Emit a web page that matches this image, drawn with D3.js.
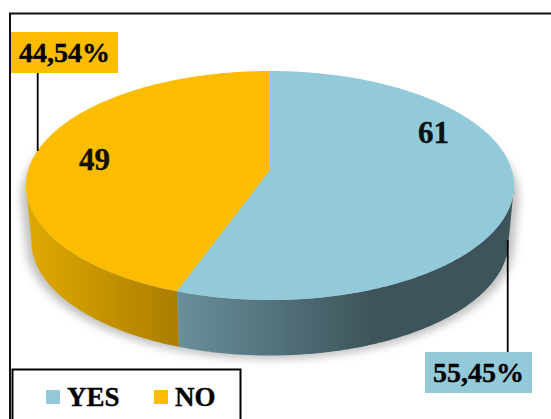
<!DOCTYPE html>
<html>
<head>
<meta charset="utf-8">
<script src="https://cdnjs.cloudflare.com/ajax/libs/d3/7.8.5/d3.min.js"></script>
<style>
  html, body { margin: 0; padding: 0; background: #fff; overflow: hidden; }
  svg { display: block; }
  text { font-family: "Liberation Serif", "Times New Roman", serif; font-weight: bold; fill: #000; stroke: #000; stroke-width: 0.35px; }
</style>
</head>
<body>
<svg id="chart" width="551" height="419"></svg>
<script>
// Survey answers
const categories = ["YES", "NO"];
const counts = [61, 49];
const percentLabels = ["55,45%", "44,54%"];
const colors = ["#92CAD9", "#FCBC00"];

const svg = d3.select("#chart");
const defs = svg.append("defs");

// Perspective tilt of the disc: maps a point of the unit circle to the page
const cx = 270, cy = 170, tilt = -0.1354, yGain = 89.4, xGain = 241.75;
const depth = 55.5, lowerScale = 0.978;

function project(angle, scale = 1, drop = 0) {
  const u = Math.sin(angle), v = -Math.cos(angle), w = 1 + tilt * v;
  return [cx + scale * xGain * u / w, drop + (cy + yGain * v) / w];
}

function edge(a0, a1, scale, drop) {
  const n = Math.max(2, Math.ceil(Math.abs(a1 - a0) / 0.01));
  return d3.range(n + 1).map(i => project(a0 + (a1 - a0) * i / n, scale, drop));
}

const line = d3.line().curve(d3.curveLinear);
const slices = d3.pie().sort(null)(counts);

// The wall is visible only between the two widest points of the disc
const sideAngle = Math.acos(tilt);
const visibleStart = d => Math.max(d.startAngle, sideAngle);
const visibleEnd = d => Math.min(d.endAngle, 2 * Math.PI - sideAngle);

// Side wall shading
function wallGradient(id, x1, x2, stops) {
  const g = defs.append("linearGradient")
    .attr("id", id).attr("gradientUnits", "userSpaceOnUse")
    .attr("x1", x1).attr("x2", x2).attr("y1", 0).attr("y2", 0);
  stops.forEach(([o, c]) => g.append("stop").attr("offset", o).attr("stop-color", c));
}
wallGradient("wall-0", 177, 372, [[0, "#6A909B"], [1, "#3D545B"]]);
wallGradient("wall-1", 28, 178, [[0, "#DFA900"], [1, "#AC7E00"]]);

defs.append("filter").attr("id", "soft")
  .attr("x", "-10%").attr("y", "-10%").attr("width", "120%").attr("height", "120%")
  .append("feGaussianBlur").attr("stdDeviation", 4.5);

// Outer frame, open on the right and at the bottom
svg.append("path")
  .attr("d", line([[10, 419], [10, 13.5], [551, 13.5]]))
  .attr("fill", "none").attr("stroke", "#111").attr("stroke-width", 2);

// Drop shadow under the disc
const shadowHull = d3.polygonHull([
  ...edge(0, 2 * Math.PI, 1.02, 12),
  ...edge(0, 2 * Math.PI, 1.0, 59)
]);
svg.append("path")
  .attr("d", line(shadowHull) + "Z")
  .attr("fill", "#8c8c8c").attr("fill-opacity", 0.55)
  .attr("filter", "url(#soft)");

// Side walls
svg.selectAll("path.wall").data(slices).join("path")
  .attr("class", "wall")
  .attr("d", d => line([
    ...edge(visibleStart(d), visibleEnd(d), 1, 0),
    ...edge(visibleEnd(d), visibleStart(d), lowerScale, depth)
  ]) + "Z")
  .attr("fill", (d, i) => `url(#wall-${i})`);

// Top faces
svg.selectAll("path.face").data(slices).join("path")
  .attr("class", "face")
  .attr("d", d => line([[cx, cy], ...edge(d.startAngle, d.endAngle, 1, 0)]) + "Z")
  .attr("fill", (d, i) => colors[i]);

// Counts on the faces
const countAnchors = [[433.5, 143], [94.5, 170]];
svg.selectAll("text.count").data(counts).join("text")
  .attr("class", "count")
  .attr("x", (d, i) => countAnchors[i][0])
  .attr("y", (d, i) => countAnchors[i][1])
  .attr("text-anchor", "middle")
  .attr("font-size", 31)
  .attr("fill-opacity", 0.93)
  .text(d => d);

// Percentage callouts with leader lines
const boxes = [
  { x: 425, y: 352, w: 107, h: 41, baseline: 381.5, leader: [[507.7, 240], [507.7, 352]] },
  { x: 11, y: 32, w: 107, h: 41, baseline: 62, leader: [[37.7, 73], [37.7, 151]] }
];
boxes.forEach((b, i) => {
  svg.append("path").attr("d", line(b.leader))
    .attr("stroke", "#000").attr("stroke-width", 1.8).attr("fill", "none");
  svg.append("rect")
    .attr("x", b.x).attr("y", b.y).attr("width", b.w).attr("height", b.h)
    .attr("fill", colors[i]);
  svg.append("text")
    .attr("x", b.x + b.w / 2).attr("y", b.baseline)
    .attr("text-anchor", "middle").attr("font-size", 28)
    .text(percentLabels[i]);
});

// Legend
svg.append("path")
  .attr("d", line([[12.5, 419], [12.5, 369.5], [240.5, 369.5], [240.5, 419]]))
  .attr("fill", "none").attr("stroke", "#000").attr("stroke-width", 2);
const legendX = d3.scaleOrdinal().domain(categories).range([46, 154]);
const legend = svg.selectAll("g.legend").data(categories).join("g")
  .attr("class", "legend")
  .attr("transform", d => `translate(${legendX(d)},390)`);
legend.append("rect")
  .attr("width", 14).attr("height", 14)
  .attr("fill", (d, i) => colors[i]);
legend.append("text")
  .attr("x", 21).attr("y", 15.5)
  .attr("font-size", 27)
  .text(d => d);
</script>
</body>
</html>
